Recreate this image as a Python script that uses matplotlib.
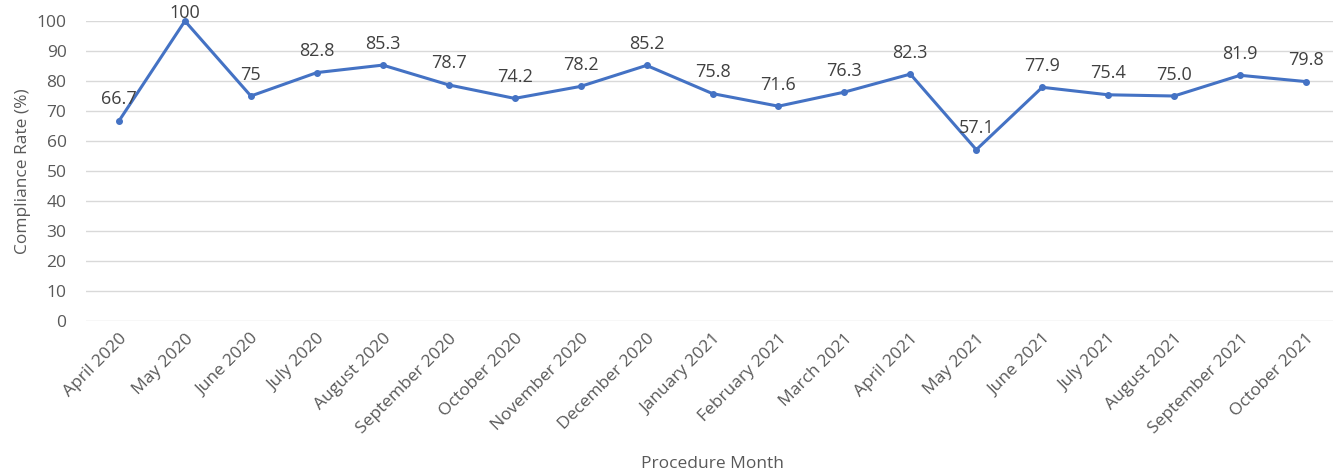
import matplotlib
matplotlib.use('Agg')
import matplotlib.pyplot as plt

# chart data
months = ["April 2020", "May 2020", "June 2020", "July 2020", "August 2020",
          "September 2020", "October 2020", "November 2020", "December 2020",
          "January 2021", "February 2021", "March 2021", "April 2021",
          "May 2021", "June 2021", "July 2021", "August 2021",
          "September 2021", "October 2021"]
rates = [66.7, 100, 75, 82.8, 85.3, 78.7, 74.2, 78.2, 85.2, 75.8, 71.6,
         76.3, 82.3, 57.1, 77.9, 75.4, 75.0, 81.9, 79.8]
point_labels = ["66.7", "100", "75", "82.8", "85.3", "78.7", "74.2", "78.2",
                "85.2", "75.8", "71.6", "76.3", "82.3", "57.1", "77.9",
                "75.4", "75.0", "81.9", "79.8"]
y_ticks = [0, 10, 20, 30, 40, 50, 60, 70, 80, 90, 100]

text_color = "#595959"
line_color = "#4472C4"
plt.rcParams['font.family'] = ['Open Sans', 'DejaVu Sans']

fig = plt.figure(figsize=(13.33, 4.74), dpi=100)
ax = fig.add_axes([86 / 1333, 1 - 321 / 474, 1253 / 1333, 300 / 474])

x = list(range(len(months)))
ax.plot(x, rates, color=line_color, linewidth=2.2, marker='o', markersize=4,
        clip_on=False, zorder=3)

for i in range(len(x)):
    # the top label is pushed down so it stays inside the chart
    dy = -1 if rates[i] >= 100 else 9
    ax.annotate(point_labels[i], (x[i], rates[i]), xytext=(0, dy),
                textcoords='offset points', ha='center', va='bottom',
                fontsize=13, color="#404040", annotation_clip=False)

ax.set_xlim(-0.5, len(months) - 0.5)
ax.set_ylim(0, 100)
ax.set_yticks(y_ticks)
ax.set_xticks(x)
ax.set_xticklabels(months, rotation=45, ha='right', rotation_mode='anchor')
ax.tick_params(axis='both', length=0, labelsize=12.5, labelcolor=text_color)
ax.tick_params(axis='y', pad=14)
ax.tick_params(axis='x', pad=7)

ax.grid(axis='y', color='#d9d9d9', linewidth=1)
ax.set_axisbelow(True)
for s in ax.spines.values():
    s.set_visible(False)

ax.set_ylabel("Compliance Rate (%)", fontsize=12.5, color=text_color, labelpad=4)
ax.set_xlabel("Procedure Month", fontsize=12.5, color=text_color, labelpad=14)

fig.savefig("out.png", dpi=100)
